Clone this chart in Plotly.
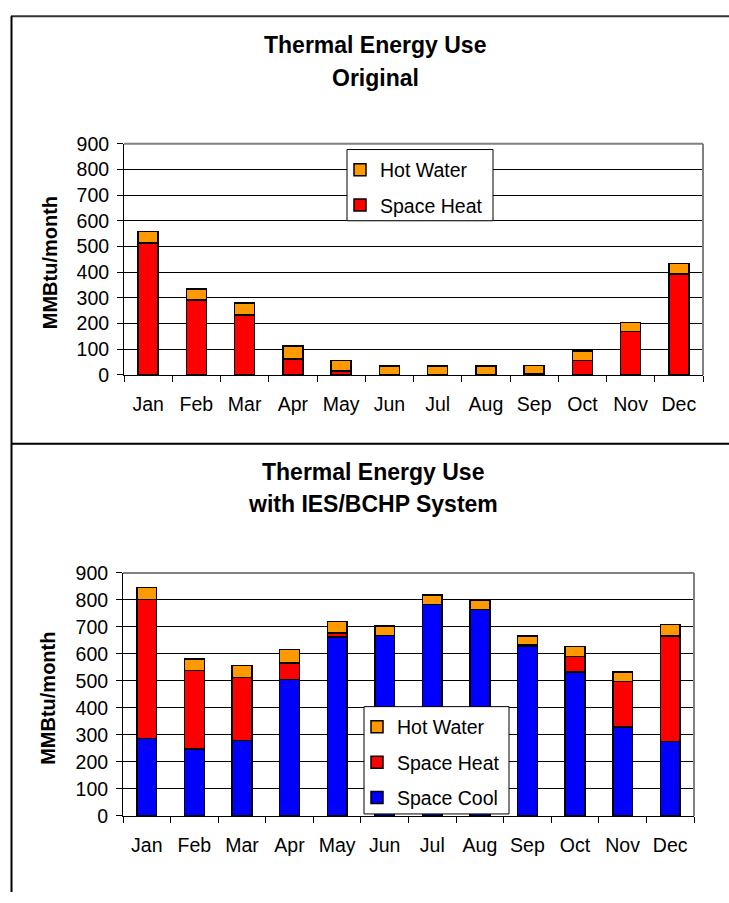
import plotly.graph_objects as go

# Monthly thermal loads, MMBtu/month
months = ["Jan", "Feb", "Mar", "Apr", "May", "Jun",
          "Jul", "Aug", "Sep", "Oct", "Nov", "Dec"]
space_heat = [514, 291, 233, 62, 15, 0, 0, 0, 5, 56, 168, 392]
hot_water = [45, 43, 46, 50, 42, 34, 35, 35, 31, 37, 36, 42]
space_cool = [287, 247, 279, 505, 663, 669, 783, 764, 630, 534, 330, 275]
y_ticks = [0, 100, 200, 300, 400, 500, 600, 700, 800, 900]

W, H = 729, 903
FONT = "Arial, Liberation Sans, sans-serif"
ORANGE, RED, BLUE = "#FF9900", "#FF0000", "#0000FF"


def px(x):
    return x / W


def py(y):
    return 1 - y / H


fig = go.Figure()

bar_line = dict(color="black", width=1.5)

# Upper panel: original system
fig.add_trace(go.Bar(x=months, y=space_heat, name="Space Heat",
                     marker=dict(color=RED, line=bar_line),
                     xaxis="x", yaxis="y", legend="legend",
                     legendgroup="h1", legendrank=2))
fig.add_trace(go.Bar(x=months, y=hot_water, name="Hot Water",
                     marker=dict(color=ORANGE, line=bar_line),
                     xaxis="x", yaxis="y", legend="legend",
                     legendgroup="w1", legendrank=1))

# Lower panel: with IES/BCHP system
fig.add_trace(go.Bar(x=months, y=space_cool, name="Space Cool",
                     marker=dict(color=BLUE, line=bar_line),
                     xaxis="x2", yaxis="y2", legend="legend2",
                     legendgroup="c2", legendrank=3))
fig.add_trace(go.Bar(x=months, y=space_heat, name="Space Heat",
                     marker=dict(color=RED, line=bar_line),
                     xaxis="x2", yaxis="y2", legend="legend2",
                     legendgroup="h2", legendrank=2))
fig.add_trace(go.Bar(x=months, y=hot_water, name="Hot Water",
                     marker=dict(color=ORANGE, line=bar_line),
                     xaxis="x2", yaxis="y2", legend="legend2",
                     legendgroup="w2", legendrank=1))

tick_font = dict(family=FONT, size=19.5, color="black")

xaxis_common = dict(type="category", tickson="boundaries", ticks="outside",
                    ticklen=6, tickcolor="black", showline=True,
                    linecolor="black", linewidth=1, showgrid=False,
                    tickfont=tick_font, ticklabelstandoff=12)
yaxis_common = dict(range=[0, 900], tickvals=y_ticks, ticks="outside",
                    ticklen=6, tickcolor="black", showline=True,
                    linecolor="black", linewidth=1, showgrid=True,
                    gridcolor="black", gridwidth=1, zeroline=False,
                    tickfont=tick_font, ticklabelstandoff=4)

# Legend entries sit on a framed white box drawn as a shape below
legend_common = dict(bgcolor="rgba(0,0,0,0)", borderwidth=0,
                     font=dict(family=FONT, size=19.5, color="black"),
                     traceorder="grouped", tracegroupgap=7,
                     xanchor="left", yanchor="top")

fig.update_layout(
    width=W, height=H, autosize=False,
    margin=dict(l=0, r=0, t=0, b=0),
    paper_bgcolor="white", plot_bgcolor="white",
    barmode="stack", bargap=0.585,
    showlegend=True,
    xaxis=dict(domain=[px(124), px(703)], anchor="y", **xaxis_common),
    yaxis=dict(domain=[py(373), py(136)], anchor="x", **yaxis_common),
    xaxis2=dict(domain=[px(123), px(694)], anchor="y2", **xaxis_common),
    yaxis2=dict(domain=[py(825), py(576)], anchor="x2", **yaxis_common),
    legend=dict(x=px(340), y=py(143), **legend_common),
    legend2=dict(x=px(357), y=py(714), **legend_common),
)

# Legend frames
for x0, x1, y0, y1 in [(347, 493, 142, 215), (364, 509, 713, 823)]:
    fig.add_shape(type="rect", xref="paper", yref="paper", layer="above",
                  x0=px(x0), x1=px(x1), y0=py(y1), y1=py(y0),
                  fillcolor="white", line=dict(color="black", width=1))

# Titles and axis labels
title_font = dict(family=FONT, size=23, color="black")
label_font = dict(family=FONT, size=20, color="black")
annotations = [
    ("<b>Thermal Energy Use</b>", 375, 35),
    ("<b>Original</b>", 375, 69),
    ("<b>Thermal Energy Use</b>", 373, 473),
    ("<b>with IES/BCHP System</b>", 373, 505.5),
]
for text, x, y in annotations:
    fig.add_annotation(text=text, x=px(x), y=py(y), xref="paper", yref="paper",
                       showarrow=False, xanchor="center", yanchor="middle",
                       font=title_font)

for x, y in [(50, 258.5), (48, 705)]:
    fig.add_annotation(text="<b>MMBtu/month</b>", x=px(x), y=py(y),
                       xref="paper", yref="paper", showarrow=False,
                       textangle=-90, xanchor="center", yanchor="middle",
                       font=label_font)

# Grey top/right edges of each plot area
for xa, ya in [("x", "y"), ("x2", "y2")]:
    fig.add_shape(type="line", xref=f"{xa} domain", yref=f"{ya} domain",
                  x0=0, x1=1, y0=1, y1=1, line=dict(color="#808080", width=2))
    fig.add_shape(type="line", xref=f"{xa} domain", yref=f"{ya} domain",
                  x0=1, x1=1, y0=0, y1=1, line=dict(color="#808080", width=2))

# Page frame and separator between the two panels
fig.add_shape(type="line", xref="paper", yref="paper",
              x0=px(11), x1=1, y0=py(5.5), y1=py(5.5),
              line=dict(color="#333333", width=2))
fig.add_shape(type="line", xref="paper", yref="paper",
              x0=px(11.5), x1=px(11.5), y0=py(5.5), y1=0,
              line=dict(color="black", width=2))
fig.add_shape(type="line", xref="paper", yref="paper",
              x0=px(11), x1=1, y0=py(443.5), y1=py(443.5),
              line=dict(color="black", width=2))

fig.write_html("out.html")
